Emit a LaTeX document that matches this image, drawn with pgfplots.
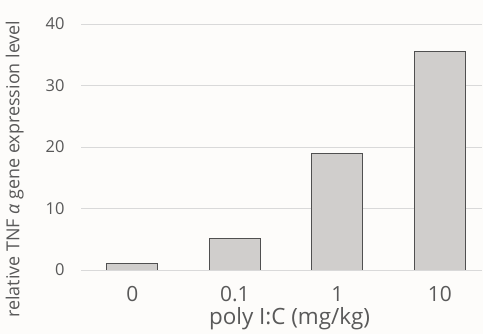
\documentclass[border=0pt]{standalone}
\usepackage{pgfplots}
\pgfplotsset{compat=1.18}
\usepackage{fontspec}
\setmainfont{Open Sans}
\definecolor{txt}{RGB}{89,89,89}
\definecolor{barfill}{RGB}{208,206,204}
\definecolor{barline}{RGB}{80,80,80}
\definecolor{gridc}{RGB}{217,217,217}
\definecolor{bg}{RGB}{253,252,250}
\begin{document}
\begin{tikzpicture}
\fill[bg] (0,0) rectangle (483bp,334bp);
\path[use as bounding box] (0,0) rectangle (483bp,334bp);
\begin{axis}[
  at={(81bp,64bp)}, anchor=south west,
  scale only axis, width=401bp, height=246bp,
  xmin=-0.5, xmax=3.41, ymin=0, ymax=40,
  ybar, bar width=51bp, bar shift=0pt,
  xtick={0,1,2,3}, xticklabels={0,0.1,1,10},
  ytick={0,10,20,30,40},
  ymajorgrids, grid style={gridc, line width=1bp},
  axis line style={draw=none},
  major tick length=0pt,
  tick style={draw=none},
  /pgf/number format/assume math mode=true,
  yticklabel style={anchor=east, xshift=-13bp, font=\fontsize{16.5}{19}\selectfont, text=txt},
  xticklabel style={anchor=center, yshift=-24bp, font=\fontsize{21}{24}\selectfont, text=txt},
  xlabel={poly I:C (mg/kg)},
  xlabel style={at={(axis description cs:0.52,-0.199)}, anchor=center, font=\fontsize{22.5}{26}\selectfont, text=txt},
  ylabel={relative TNF {\itshape α} gene expression level},
  ylabel style={at={(axis description cs:-0.165,0.41)}, anchor=center, rotate=0, font=\fontsize{18}{22}\selectfont, text=txt},
]
\addplot[fill=barfill, draw=barline, line width=0.9bp] coordinates {(0,1) (1,5.2) (2,19) (3,35.5)};
\end{axis}
\end{tikzpicture}
\end{document}
